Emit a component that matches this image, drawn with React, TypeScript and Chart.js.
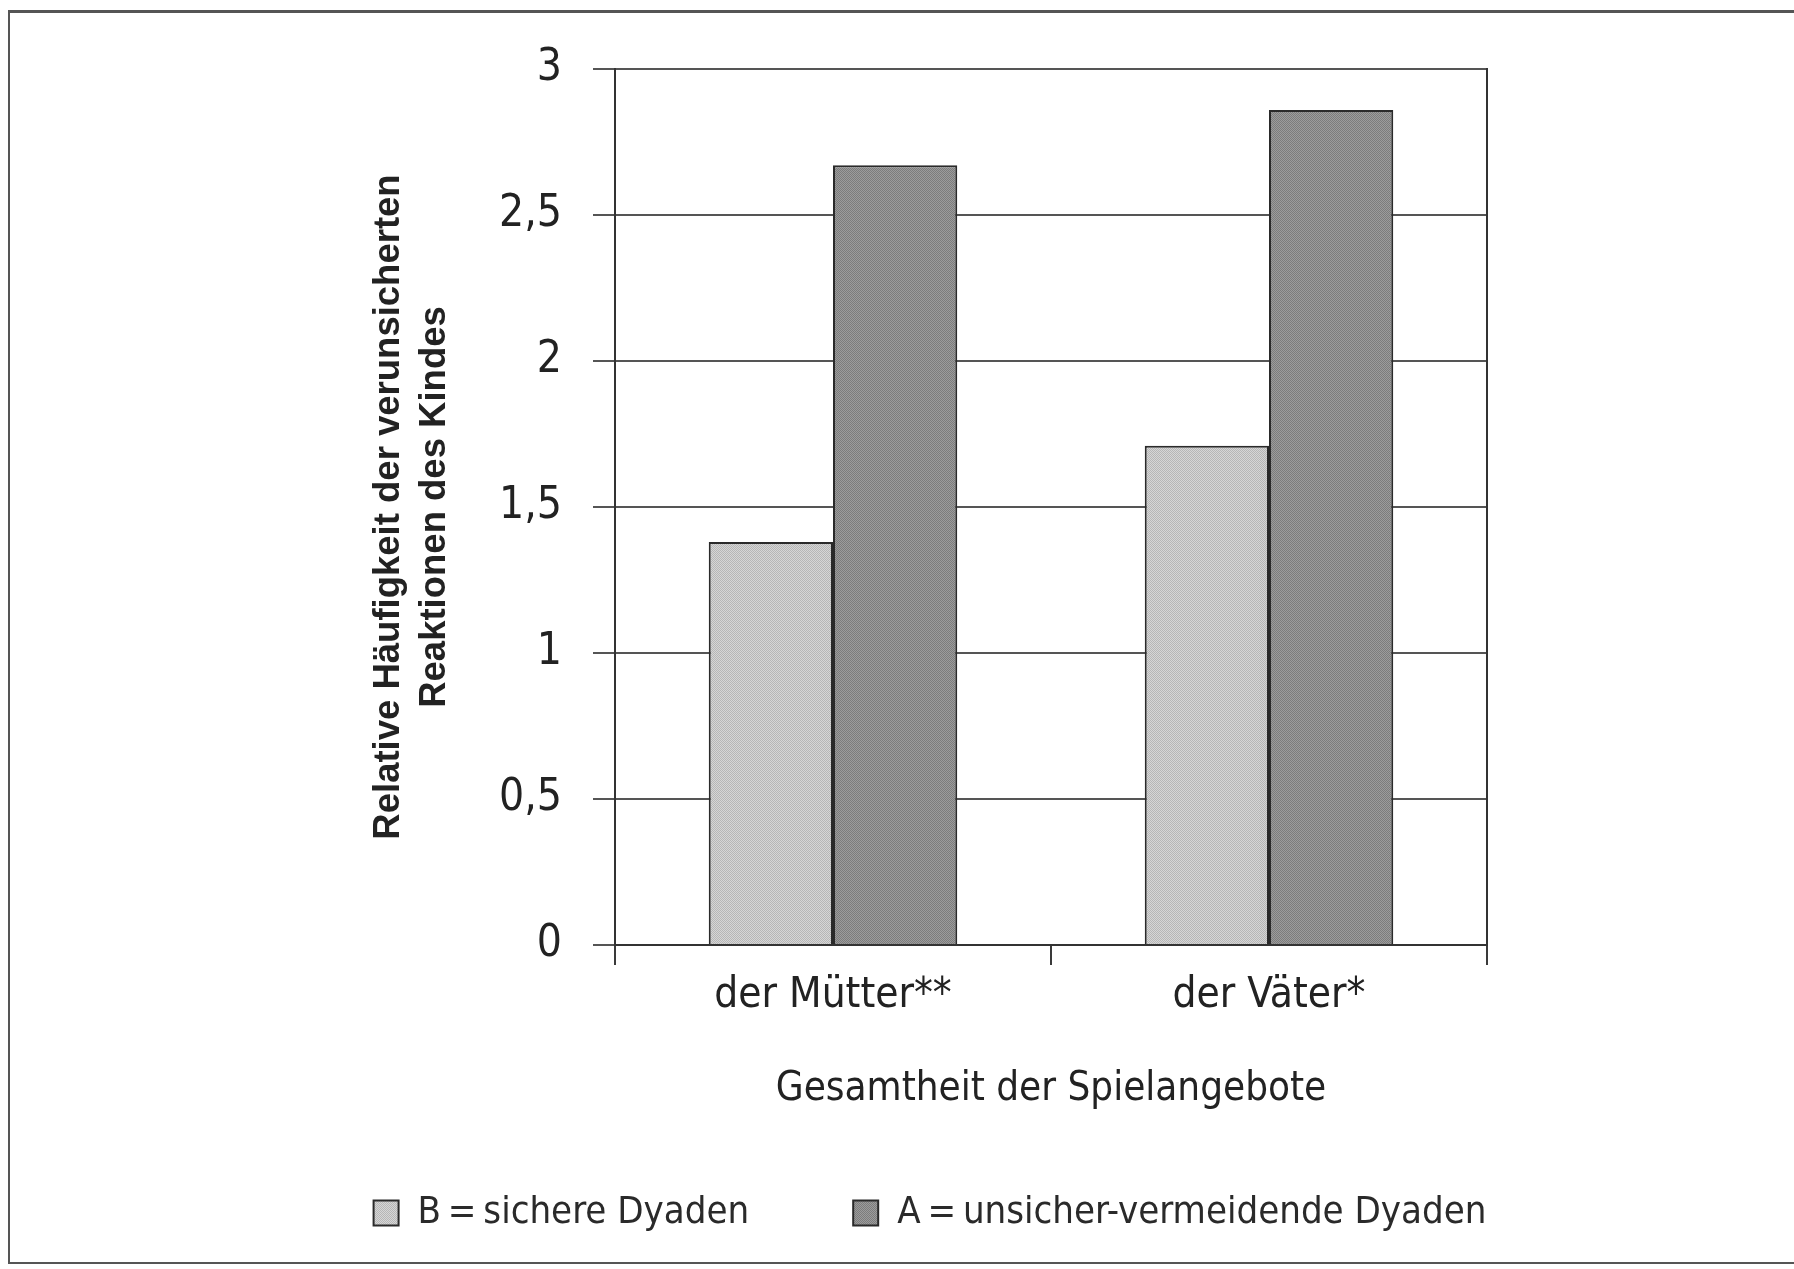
import React, { useEffect, useRef } from "react";
import { Chart, registerables } from "chart.js";

Chart.register(...registerables);

const categories = ["der Mütter**", "der Väter*"];
const seriesLabels = ["B\u2009=\u2009sichere Dyaden", "A\u2009=\u2009unsicher-vermeidende Dyaden"];
const valuesB = [1.38, 1.71];
const valuesA = [2.67, 2.86];
const yTickLabels = ["0", "0,5", "1", "1,5", "2", "2,5", "3"];
const yTitle = ["Relative Häufigkeit der verunsicherten", "Reaktionen des Kindes"];
const xTitle = "Gesamtheit der Spielangebote";

const NARROW = '"Liberation Sans Narrow", "DejaVu Sans Condensed", "Arial Narrow", sans-serif';
const SANS = '"Liberation Sans", Arial, sans-serif';

function makePattern(light: string, dark: string): CanvasPattern | string {
  const c = document.createElement("canvas");
  c.width = 4;
  c.height = 4;
  const g = c.getContext("2d");
  if (!g) return light;
  g.fillStyle = light;
  g.fillRect(0, 0, 4, 4);
  g.fillStyle = dark;
  for (let y = 0; y < 4; y++) {
    for (let x = 0; x < 4; x++) {
      if ((x + y) % 2 === 0) g.fillRect(x, y, 1, 1);
    }
  }
  const p = g.createPattern(c, "repeat");
  return p || light;
}

export default function App() {
  const ref = useRef<HTMLCanvasElement | null>(null);

  useEffect(() => {
    if (!ref.current) return;
    const patB = makePattern("#d6d6d6", "#b6b6b6");
    const patA = makePattern("#9c9c9c", "#7c7c7c");
    const chart = new Chart(ref.current, {
      type: "bar",
      data: {
        labels: categories,
        datasets: [
          {
            label: seriesLabels[0],
            data: valuesB,
            backgroundColor: patB as any,
            borderColor: "#2a2a2a",
            borderWidth: 2,
            categoryPercentage: 0.57,
            barPercentage: 1.0,
          },
          {
            label: seriesLabels[1],
            data: valuesA,
            backgroundColor: patA as any,
            borderColor: "#2a2a2a",
            borderWidth: 2,
            categoryPercentage: 0.57,
            barPercentage: 1.0,
          },
        ],
      },
      options: {
        responsive: false,
        animation: false,
        devicePixelRatio: 1,
        layout: { padding: { left: 66, right: 0, top: 69, bottom: 27 } },
        plugins: {
          legend: {
            position: "bottom",
            align: "center",
            labels: {
              boxWidth: 25,
              boxHeight: 25,
              padding: 104,
              color: "#2a2a2a",
              font: { family: NARROW, size: 38 },
            },
          },
          tooltip: { enabled: false },
        },
        scales: {
          x: {
            type: "category",
            offset: true,
            grid: {
              display: true,
              drawOnChartArea: false,
              drawTicks: true,
              tickLength: 20,
              color: "#3a3a3a",
              lineWidth: 2,
              offset: true,
            },
            border: { display: true, color: "#333", width: 2 },
            ticks: {
              color: "#222",
              font: { family: NARROW, size: 42 },
              padding: 6,
              maxRotation: 0,
              autoSkip: false,
            },
            title: {
              display: true,
              text: xTitle,
              color: "#222",
              font: { family: NARROW, size: 40 },
              padding: { top: 0, bottom: -24 },
            },
            afterFit: (s: any) => {
              s.height = 145;
            },
          },
          y: {
            type: "linear",
            position: "left",
            min: 0,
            max: 3,
            ticks: {
              stepSize: 0.5,
              padding: 31,
              color: "#222",
              font: { family: NARROW, size: 44 },
              callback: (_v: any, i: number) => yTickLabels[i],
            },
            grid: { color: "#555", lineWidth: 2, tickLength: 22, drawTicks: true },
            border: { display: true, color: "#333", width: 2 },
            title: {
              display: true,
              text: yTitle,
              color: "#222",
              font: { family: SANS, size: 36.5, weight: "bold", lineHeight: 1.26 },
              padding: { top: 300, bottom: 0 },
            },
            afterFit: (s: any) => {
              s.width = 549;
            },
          },
          y2: {
            type: "linear",
            position: "right",
            display: true,
            grid: {
              display: true,
              drawOnChartArea: false,
              drawTicks: false,
              color: "rgba(0,0,0,0)",
            },
            border: { display: true, color: "#333", width: 2 },
            ticks: { display: false },
            afterFit: (s: any) => {
              s.width = 307;
            },
          },
        },
      } as any,
    });
    return () => chart.destroy();
  }, []);

  return (
    <div
      style={{
        position: "fixed",
        left: 0,
        top: 0,
        width: 1794,
        height: 1269,
        background: "#ffffff",
        overflow: "hidden",
      }}
    >
      <div
        style={{
          position: "absolute",
          left: 8,
          top: 10,
          right: -20,
          bottom: 5,
          borderTop: "3px solid #555",
          borderLeft: "2px solid #555",
          borderBottom: "2px solid #555",
        }}
      />
      <canvas
        ref={ref}
        width={1794}
        height={1269}
        style={{ position: "absolute", left: 0, top: 0, display: "block" }}
      />
    </div>
  );
}
